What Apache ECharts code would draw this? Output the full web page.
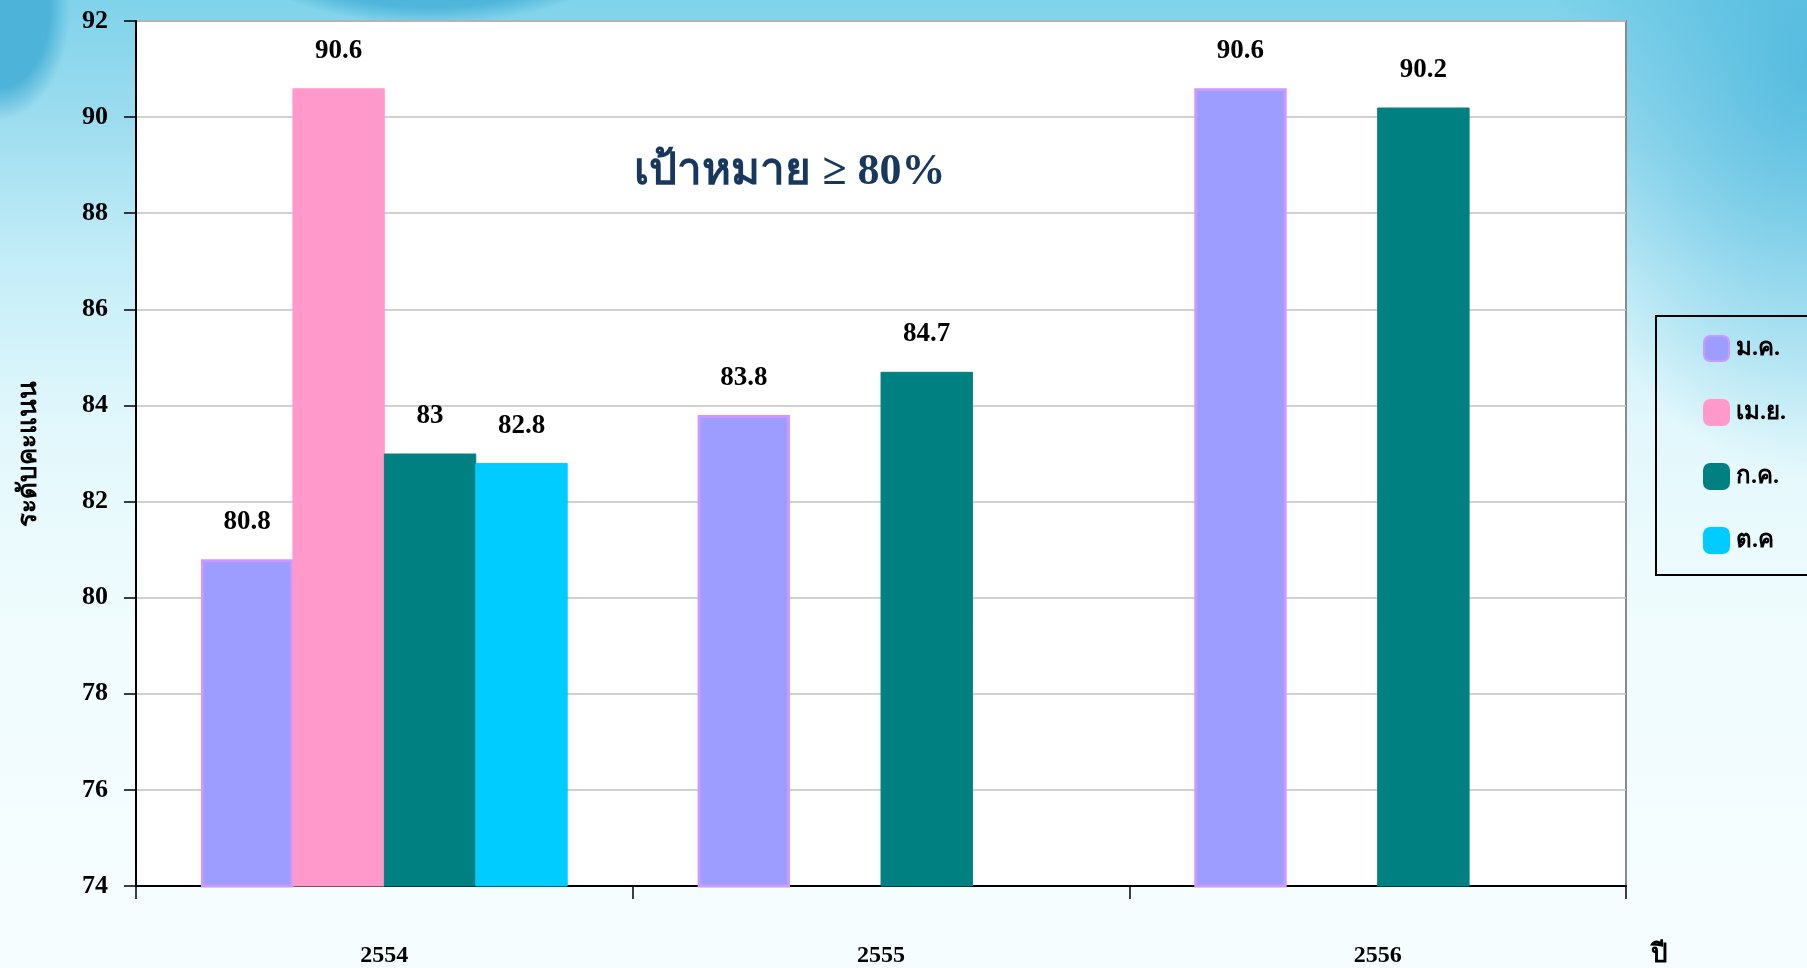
<!DOCTYPE html>
<html><head><meta charset="utf-8">
<script src="https://cdn.jsdelivr.net/npm/echarts@6/dist/echarts.min.js"></script>
<style>
html,body{margin:0;padding:0;overflow:hidden;}
#c{width:1807px;height:968px;
background:
 radial-gradient(ellipse 70px 110px at 0px 10px, #4db3d8 0%, #4db3d8 70%, rgba(77,179,216,0) 100%),
 radial-gradient(ellipse 260px 150px at 430px -125px, #4fb5da 0%, #4fb5da 88%, rgba(79,181,218,0) 100%),
 radial-gradient(ellipse 260px 420px at 1807px 60px, rgba(80,185,222,0.9) 0%, rgba(80,185,222,0) 100%),
 linear-gradient(to bottom, #7fd3ea 0%, #9cdcef 12%, #c6eef8 28%, #e3f8fc 45%, #f0fcfe 65%, #f6fdff 100%);}
</style></head>
<body><div id="c"></div>
<script>
const categories = ['2554', '2555', '2556'];
const seriesNames = ['ม.ค.', 'เม.ย.', 'ก.ค.', 'ต.ค'];
const janValues = [80.8, 83.8, 90.6];
const aprValues = [90.6, null, null];
const julValues = [83, 84.7, 90.2];
const octValues = [82.8, null, null];
const yMin = 74, yMax = 92, yInterval = 2;
const targetText = 'เป้าหมาย ≥ 80%';
const yAxisName = 'ระดับคะแนน';
const xAxisName = 'ปี';

const serif = '"Liberation Serif", "Times New Roman", "DejaVu Serif", serif';
const seriesData = [janValues, aprValues, julValues, octValues];
const fills = ['#9d9dff', '#ff99cc', '#008080', '#00ccff'];
const borders = ['#cc99ff', '#ff99cc', '#008080', '#00ccff'];

const chart = echarts.init(document.getElementById('c'), null, {renderer: 'canvas'});
chart.setOption({
  backgroundColor: 'transparent',
  animation: false,
  grid: {left: 136, right: 181, top: 21, bottom: 82, show: true, backgroundColor: '#ffffff', borderColor: '#8a8a8a', borderWidth: 2, containLabel: false},
  graphic: [{
    type: 'text', x: 790, y: 173,
    style: {text: targetText, font: 'bold 44px ' + serif, fill: '#17375e', align: 'center', verticalAlign: 'middle'}
  }, {
    type: 'text', x: 1659, y: 955,
    style: {text: xAxisName, font: 'bold 26px ' + serif, fill: '#000', align: 'center', verticalAlign: 'middle'}
  }],
  legend: {
    orient: 'vertical', left: 1656, top: 316,
    padding: [19, 60, 21, 47],
    itemWidth: 25, itemHeight: 25, itemGap: 37,
    icon: 'roundRect',
    borderColor: '#000', borderWidth: 2, backgroundColor: 'transparent',
    textStyle: {fontFamily: serif, fontWeight: 'bold', fontSize: 24, lineHeight: 25, color: '#000', padding: [0, 0, 0, 2]},
    data: seriesNames
  },
  xAxis: {
    type: 'category', data: categories,
    axisLine: {lineStyle: {color: '#000', width: 2}},
    axisTick: {show: true, length: 13, lineStyle: {color: '#000', width: 1.5}},
    axisLabel: {margin: 58, fontFamily: serif, fontWeight: 'bold', fontSize: 24, color: '#000'}
  },
  yAxis: {
    type: 'value', min: yMin, max: yMax, interval: yInterval,
    axisLine: {show: true, lineStyle: {color: '#000', width: 2}},
    axisTick: {show: true, length: 12, lineStyle: {color: '#000', width: 1.5}},
    axisLabel: {margin: 28, fontFamily: serif, fontWeight: 'bold', fontSize: 26, color: '#000'},
    splitLine: {lineStyle: {color: '#c0c0c0', width: 1.5}},
    name: yAxisName, nameLocation: 'middle', nameGap: 94, nameRotate: 90,
    nameTextStyle: {fontFamily: serif, fontWeight: 'bold', fontSize: 26, color: '#000'}
  },
  series: seriesNames.map((n, i) => ({
    name: n, type: 'bar', data: seriesData[i],
    barWidth: '18.6%', barGap: '-1%',
    itemStyle: {color: fills[i], borderColor: borders[i], borderWidth: i === 0 ? 3 : 1},
    label: {show: true, position: 'top', distance: 24, fontFamily: serif, fontWeight: 'bold', fontSize: 27, color: '#000'}
  }))
});
</script>
</body></html>
